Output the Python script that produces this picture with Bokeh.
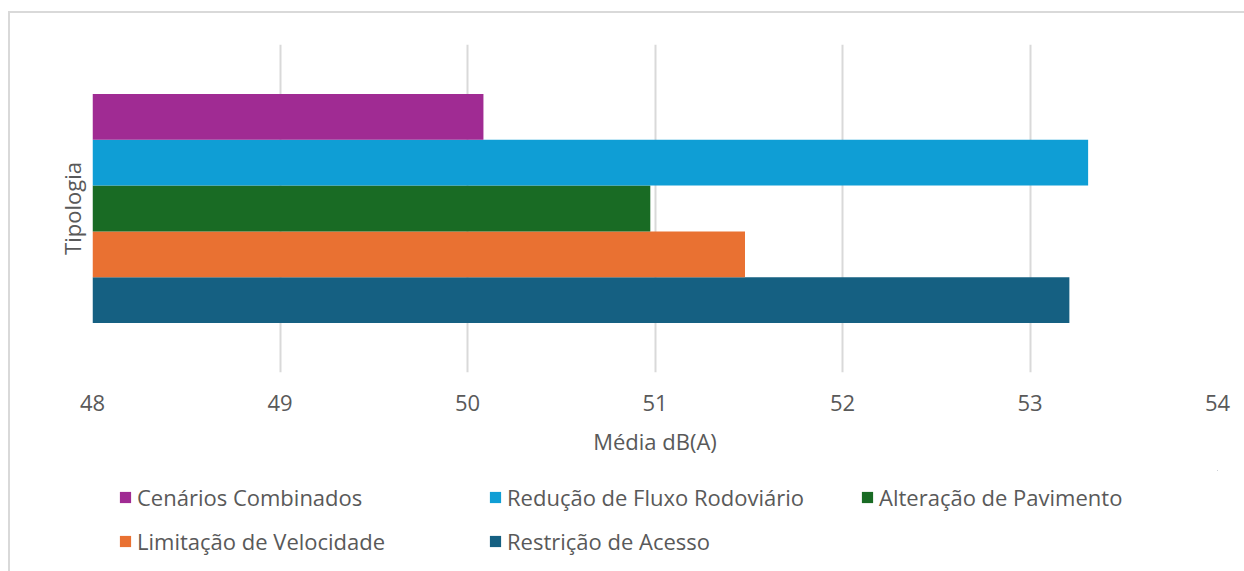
from bokeh.plotting import figure
from bokeh.layouts import column
from bokeh.models import Range1d, FixedTicker, Legend, LegendItem, ColumnDataSource
from bokeh.embed import file_html
from bokeh.resources import INLINE

# ---- data ----
series = ["Restrição de Acesso", "Limitação de Velocidade", "Alteração de Pavimento",
          "Redução de Fluxo Rodoviário", "Cenários Combinados"]
values = [53.21, 51.48, 50.975, 53.31, 50.085]
colors = ["#156082", "#E97132", "#196B24", "#0F9ED5", "#A02B93"]
x_ticks = [48, 49, 50, 51, 52, 53, 54]
# legend columns (as laid out in the chart, read row-wise)
legend_cols = [["Cenários Combinados", "Limitação de Velocidade"],
               ["Redução de Fluxo Rodoviário", "Restrição de Acesso"],
               ["Alteração de Pavimento"]]
x_title = "Média dB(A)"
y_title = "Tipologia"

FONT = "Open Sans"
FS = "22px"
GREY = "#595959"
AX_MIN, AX_MAX = x_ticks[0], x_ticks[-1]
W = 1234

n = len(series)
pad = 1.08
src = ColumnDataSource(dict(
    y=list(range(n)), right=values, left=[AX_MIN] * n, color=colors, name=series))

p = figure(output_backend="svg", toolbar_location=None,
           width=W, height=457,
           min_border_left=82, min_border_top=31, min_border_right=W - 82 - 1125,
           min_border_bottom=98,
           x_range=Range1d(AX_MIN, AX_MAX), y_range=Range1d(-0.5 - pad, n - 0.5 + pad))
p.outline_line_color = None
p.background_fill_color = "white"
p.border_fill_color = "white"

r = p.hbar(y="y", left="left", right="right", height=1.0, fill_color="color",
           line_color=None, source=src)

p.ygrid.visible = False
p.xgrid.grid_line_color = "#d9d9d9"
p.xgrid.grid_line_width = 2
p.xaxis.ticker = FixedTicker(ticks=x_ticks)
p.xaxis.axis_line_color = None
p.xaxis.major_tick_out = 0
p.xaxis.major_tick_in = 0
p.xaxis.minor_tick_out = 0
p.xaxis.minor_tick_in = 0
p.xaxis.major_label_standoff = 22
p.xaxis.major_label_text_font = FONT
p.xaxis.major_label_text_font_size = FS
p.xaxis.major_label_text_color = GREY
p.xaxis.axis_label = x_title
p.xaxis.axis_label_text_font = FONT
p.xaxis.axis_label_text_font_size = FS
p.xaxis.axis_label_text_font_style = "normal"
p.xaxis.axis_label_text_color = GREY
p.xaxis.axis_label_standoff = 12

p.yaxis.ticker = FixedTicker(ticks=[])
p.yaxis.axis_line_color = None
p.yaxis.major_tick_out = 0
p.yaxis.minor_tick_out = 0
p.yaxis.major_label_text_font_size = "0px"
p.yaxis.axis_label = y_title
p.yaxis.axis_label_text_font = FONT
p.yaxis.axis_label_text_font_size = FS
p.yaxis.axis_label_text_font_style = "normal"
p.yaxis.axis_label_text_color = GREY
p.yaxis.axis_label_standoff = 6

# ---- legend strip (separate figure so the legend is not clipped) ----
LH = 101
q = figure(output_backend="svg", toolbar_location=None, width=W, height=LH,
           min_border=0, x_range=Range1d(0, 1), y_range=Range1d(-1000, -999))
q.axis.visible = False
q.grid.visible = False
q.outline_line_color = None
q.background_fill_color = "white"
q.border_fill_color = "white"
# same series, zero-height and far outside the strip's view: only legend glyph sources
r2 = q.hbar(y="y", left="left", right="right", height=0, fill_color="color",
            line_color=None, source=src)

col_x = [26, 396, 768]   # offsets from the plot-area left edge
for cx, names in zip(col_x, legend_cols):
    items = [LegendItem(label=nm, renderers=[r2], index=series.index(nm)) for nm in names]
    h = 30 * len(names) + 14 * (len(names) - 1)
    lg = Legend(items=items, location=(cx, LH - 12 - h), orientation="vertical",
                border_line_color=None, background_fill_alpha=0,
                glyph_width=14, glyph_height=14, label_standoff=5,
                label_text_font=FONT, label_text_font_size=FS, label_text_color=GREY,
                label_height=30, spacing=14, padding=0, margin=0)
    q.add_layout(lg, "center")

layout = column(p, q, spacing=0,
                styles={"margin-left": "8px", "margin-top": "11px",
                        "border-top": "2px solid #d9d9d9",
                        "border-left": "2px solid #d9d9d9"})
open("out.html", "w").write(file_html(layout, INLINE))
